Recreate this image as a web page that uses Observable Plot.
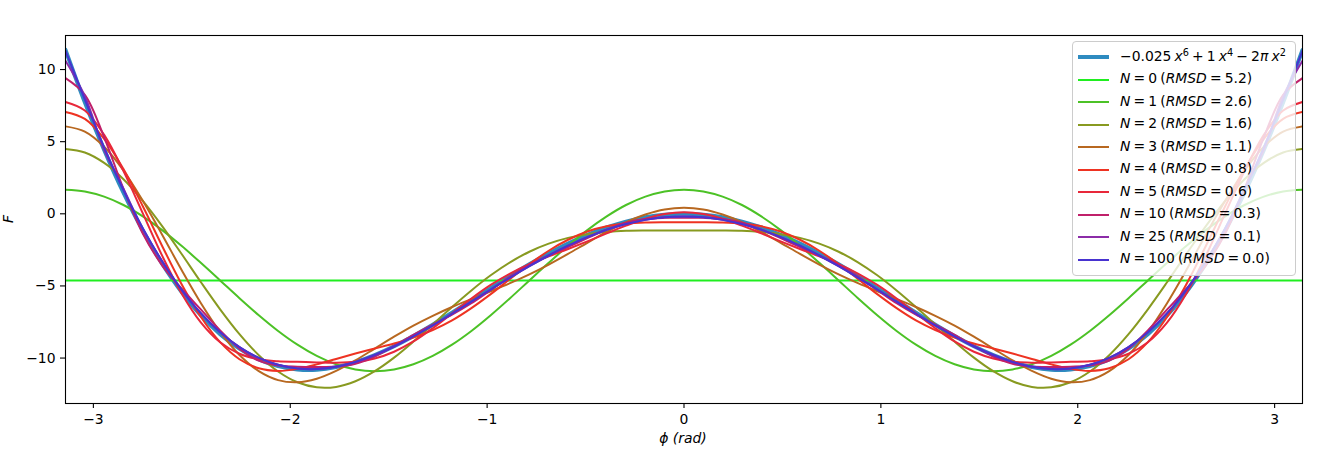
<!DOCTYPE html>
<html>
<head>
<meta charset="utf-8">
<script src="https://cdn.jsdelivr.net/npm/d3@7"></script>
<script src="https://cdn.jsdelivr.net/npm/@observablehq/plot@0.6"></script>
<style>
  body { margin: 0; background: #fff; }
  #fig { position: relative; width: 1330px; height: 454px; font-family: "DejaVu Sans", sans-serif; color: #000; }
  #fig svg { position: absolute; left: 0; top: 0; }
  #legend { position: absolute; left: 1072px; top: 41px; width: 224px; height: 235px; box-sizing: border-box;
            background: rgba(255,255,255,0.8); border: 1px solid #cccccc; border-radius: 4px; font-size: 13.9px; }
  .sw { position: absolute; left: 5px; width: 31px; }
  .lbl { position: absolute; left: 47px; white-space: nowrap; line-height: 1; word-spacing: -1.3px; }
  .lbl sup { font-size: 70%; vertical-align: 0.5em; line-height: 0; }
  .axlab { position: absolute; font-size: 13.9px; font-style: italic; line-height: 1; white-space: nowrap; }
</style>
</head>
<body>
<div id="fig"></div>
<script>
// x grid (phi, rad)
const phi = [-3.1416,-3.0434,-2.9452,-2.8471,-2.7489,-2.6507,-2.5525,-2.4544,-2.3562,-2.2580,-2.1598,-2.0617,-1.9635,-1.8653,-1.7671,-1.6690,-1.5708,-1.4726,-1.3744,-1.2763,-1.1781,-1.0799,-0.9817,-0.8836,-0.7854,-0.6872,-0.5890,-0.4909,-0.3927,-0.2945,-0.1963,-0.0982,0,0.0982,0.1963,0.2945,0.3927,0.4909,0.5890,0.6872,0.7854,0.8836,0.9817,1.0799,1.1781,1.2763,1.3744,1.4726,1.5708,1.6690,1.7671,1.8653,1.9635,2.0617,2.1598,2.2580,2.3562,2.4544,2.5525,2.6507,2.7489,2.8471,2.9452,3.0434,3.1416];

// target function  -0.025 x^6 + x^4 - 2π x^2
const target = [11.36,7.73,4.43,1.46,-1.17,-3.45,-5.40,-7.03,-8.34,-9.35,-10.09,-10.56,-10.79,-10.81,-10.63,-10.28,-9.79,-9.18,-8.47,-7.69,-6.86,-6.01,-5.15,-4.31,-3.50,-2.75,-2.06,-1.46,-0.95,-0.54,-0.24,-0.06,0,-0.06,-0.24,-0.54,-0.95,-1.46,-2.06,-2.75,-3.50,-4.31,-5.15,-6.01,-6.86,-7.69,-8.47,-9.18,-9.79,-10.28,-10.63,-10.81,-10.79,-10.56,-10.09,-9.35,-8.34,-7.03,-5.40,-3.45,-1.17,1.46,4.43,7.73,11.36];

// N = 0 : constant mean
const meanF = -4.62;

const n1 = [1.67,1.55,1.19,0.61,-0.18,-1.13,-2.22,-3.40,-4.62,-5.85,-7.03,-8.12,-9.07,-9.85,-10.43,-10.79,-10.91,-10.79,-10.43,-9.85,-9.07,-8.12,-7.03,-5.85,-4.62,-3.40,-2.22,-1.13,-0.18,0.61,1.19,1.55,1.67,1.55,1.19,0.61,-0.18,-1.13,-2.22,-3.40,-4.62,-5.85,-7.03,-8.12,-9.07,-9.85,-10.43,-10.79,-10.91,-10.79,-10.43,-9.85,-9.07,-8.12,-7.03,-5.85,-4.62,-3.40,-2.22,-1.13,-0.18,0.61,1.19,1.55,1.67];

const n2 = [4.49,4.25,3.53,2.40,0.90,-0.85,-2.77,-4.73,-6.62,-8.34,-9.80,-10.93,-11.68,-12.03,-12.00,-11.61,-10.91,-9.97,-8.86,-7.67,-6.46,-5.31,-4.26,-3.36,-2.63,-2.07,-1.67,-1.41,-1.26,-1.18,-1.16,-1.16,-1.16,-1.16,-1.16,-1.18,-1.26,-1.41,-1.67,-2.07,-2.63,-3.36,-4.26,-5.31,-6.46,-7.67,-8.86,-9.97,-10.91,-11.61,-12.00,-12.03,-11.68,-10.93,-9.80,-8.34,-6.62,-4.73,-2.77,-0.85,0.90,2.40,3.53,4.25,4.49];

const n3 = [6.06,5.70,4.65,3.00,0.90,-1.45,-3.88,-6.18,-8.19,-9.79,-10.91,-11.53,-11.68,-11.43,-10.89,-10.16,-9.34,-8.52,-7.75,-7.07,-6.46,-5.91,-5.37,-4.81,-4.20,-3.52,-2.78,-2.01,-1.26,-0.58,-0.05,0.30,0.42,0.30,-0.05,-0.58,-1.26,-2.01,-2.78,-3.52,-4.20,-4.81,-5.37,-5.91,-6.46,-7.07,-7.75,-8.52,-9.34,-10.16,-10.89,-11.43,-11.68,-11.53,-10.91,-9.79,-8.19,-6.18,-3.88,-1.45,0.90,3.00,4.65,5.70,6.06];

const n4 = [7.06,6.58,5.20,3.10,0.52,-2.23,-4.86,-7.14,-8.90,-10.08,-10.71,-10.89,-10.75,-10.44,-10.06,-9.69,-9.34,-8.99,-8.58,-8.06,-7.39,-6.54,-5.57,-4.52,-3.49,-2.56,-1.80,-1.23,-0.87,-0.68,-0.60,-0.58,-0.58,-0.58,-0.60,-0.68,-0.87,-1.23,-1.80,-2.56,-3.49,-4.52,-5.57,-6.54,-7.39,-8.06,-8.58,-8.99,-9.34,-9.69,-10.06,-10.44,-10.75,-10.89,-10.71,-10.08,-8.90,-7.14,-4.86,-2.23,0.52,3.10,5.20,6.58,7.06];

const n5 = [7.75,7.16,5.47,2.96,0.03,-2.90,-5.50,-7.52,-8.90,-9.70,-10.08,-10.22,-10.26,-10.30,-10.32,-10.26,-10.03,-9.56,-8.85,-7.93,-6.90,-5.87,-4.93,-4.14,-3.49,-2.95,-2.44,-1.91,-1.36,-0.82,-0.34,-0.01,0.11,-0.01,-0.34,-0.82,-1.36,-1.91,-2.44,-2.95,-3.49,-4.14,-4.93,-5.87,-6.90,-7.93,-8.85,-9.56,-10.03,-10.26,-10.32,-10.30,-10.26,-10.22,-10.08,-9.70,-8.90,-7.52,-5.50,-2.90,0.03,2.96,5.47,7.16,7.75];

const n10 = [9.40,8.25,5.30,1.73,-1.36,-3.57,-5.18,-6.63,-8.08,-9.35,-10.18,-10.52,-10.60,-10.62,-10.59,-10.39,-9.89,-9.16,-8.39,-7.68,-6.99,-6.20,-5.28,-4.35,-3.54,-2.88,-2.30,-1.69,-1.10,-0.62,-0.36,-0.28,-0.27,-0.28,-0.36,-0.62,-1.10,-1.69,-2.30,-2.88,-3.54,-4.35,-5.28,-6.20,-6.99,-7.68,-8.39,-9.16,-9.89,-10.39,-10.59,-10.62,-10.60,-10.52,-10.18,-9.35,-8.08,-6.63,-5.18,-3.57,-1.36,1.73,5.30,8.25,9.40];

const n25 = [10.61,8.15,4.44,1.74,-1.06,-3.29,-5.25,-6.89,-8.21,-9.24,-9.99,-10.47,-10.72,-10.76,-10.60,-10.27,-9.79,-9.20,-8.50,-7.74,-6.93,-6.09,-5.25,-4.42,-3.63,-2.89,-2.21,-1.62,-1.11,-0.71,-0.42,-0.24,-0.18,-0.24,-0.42,-0.71,-1.11,-1.62,-2.21,-2.89,-3.63,-4.42,-5.25,-6.09,-6.93,-7.74,-8.50,-9.20,-9.79,-10.27,-10.60,-10.76,-10.72,-10.47,-9.99,-9.24,-8.21,-6.89,-5.25,-3.29,-1.06,1.74,4.44,8.15,10.61];

const n100 = [11.30,7.91,4.60,1.63,-1.00,-3.29,-5.25,-6.89,-8.21,-9.24,-9.99,-10.47,-10.72,-10.76,-10.60,-10.27,-9.79,-9.20,-8.50,-7.74,-6.93,-6.09,-5.25,-4.42,-3.63,-2.89,-2.21,-1.62,-1.11,-0.71,-0.42,-0.24,-0.18,-0.24,-0.42,-0.71,-1.11,-1.62,-2.21,-2.89,-3.63,-4.42,-5.25,-6.09,-6.93,-7.74,-8.50,-9.20,-9.79,-10.27,-10.60,-10.76,-10.72,-10.47,-9.99,-9.24,-8.21,-6.89,-5.25,-3.29,-1.00,1.63,4.60,7.91,11.30];

const nValues = [0, 1, 2, 3, 4, 5, 10, 25, 100];
const rmsd = [5.2, 2.6, 1.6, 1.1, 0.8, 0.6, 0.3, 0.1, 0.0];
const targetColor = "#2e8bc0";
const colors = ["#20ee20", "#4cc226", "#889a20", "#b86820", "#ee3322", "#e8283a", "#c0206a", "#8c2ca8", "#4833d0"];
const xTicks = [-3, -2, -1, 0, 1, 2, 3];
const yTicks = [-10, -5, 0, 5, 10];

const curves = [n1, n2, n3, n4, n5, n10, n25, n100];
const intFmt = d3.format("d");

const chart = Plot.plot({
  width: 1330,
  height: 454,
  marginLeft: 65,
  marginRight: 28,
  marginTop: 35,
  marginBottom: 51,
  style: { fontFamily: "DejaVu Sans", fontSize: "13.9px", background: "white", color: "black" },
  x: { domain: d3.extent(phi) },
  y: { domain: [-13.15, 12.36] },
  marks: [
    Plot.line(target, { x: phi, y: target, stroke: targetColor, strokeWidth: 4, curve: "catmull-rom", clip: true }),
    Plot.ruleY([meanF], { stroke: colors[0], strokeWidth: 2 }),
    ...curves.map((c, i) => Plot.line(c, { x: phi, y: c, stroke: colors[i + 1], strokeWidth: 2, curve: "catmull-rom", clip: true })),
    Plot.frame({ stroke: "black", strokeWidth: 1.1 }),
    Plot.axisX({ ticks: xTicks, tickFormat: intFmt, tickSize: 5, tickPadding: 6, fontSize: 13.9, label: null, strokeWidth: 1.1 }),
    Plot.axisY({ ticks: yTicks, tickFormat: intFmt, tickSize: 5, tickPadding: 5, fontSize: 13.9, label: null, strokeWidth: 1.1 })
  ]
});

const fig = document.getElementById("fig");
fig.appendChild(chart);

// axis labels
const xl = document.createElement("div");
xl.className = "axlab";
xl.style.left = "683px"; xl.style.top = "432px"; xl.style.transform = "translateX(-50%)";
xl.textContent = "ϕ (rad)";
fig.appendChild(xl);

const yl = document.createElement("div");
yl.className = "axlab";
yl.style.left = "5px"; yl.style.top = "212px"; yl.style.transform = "rotate(-90deg)";
yl.textContent = "F";
fig.appendChild(yl);

// legend
const legend = document.createElement("div");
legend.id = "legend";
const rowCenters = [15, 37.5, 60, 82.5, 105, 127.5, 150, 172.5, 195, 217.5];
function addRow(i, color, width, html) {
  const cy = rowCenters[i];
  const sw = document.createElement("div");
  sw.className = "sw";
  sw.style.top = (cy - width / 2) + "px";
  sw.style.height = width + "px";
  sw.style.background = color;
  legend.appendChild(sw);
  const lb = document.createElement("div");
  lb.className = "lbl";
  lb.style.top = (cy - 7.5) + "px";
  lb.innerHTML = html;
  legend.appendChild(lb);
}
addRow(0, targetColor, 4, "−0.025 <i>x</i><sup>6</sup> + 1 <i>x</i><sup>4</sup> − 2<i>π</i> <i>x</i><sup>2</sup>");
nValues.forEach((n, i) => {
  addRow(i + 1, colors[i], 2, `<i>N</i> = ${n} (<i>RMSD</i> = ${rmsd[i].toFixed(1)})`);
});
fig.appendChild(legend);
</script>
</body>
</html>
